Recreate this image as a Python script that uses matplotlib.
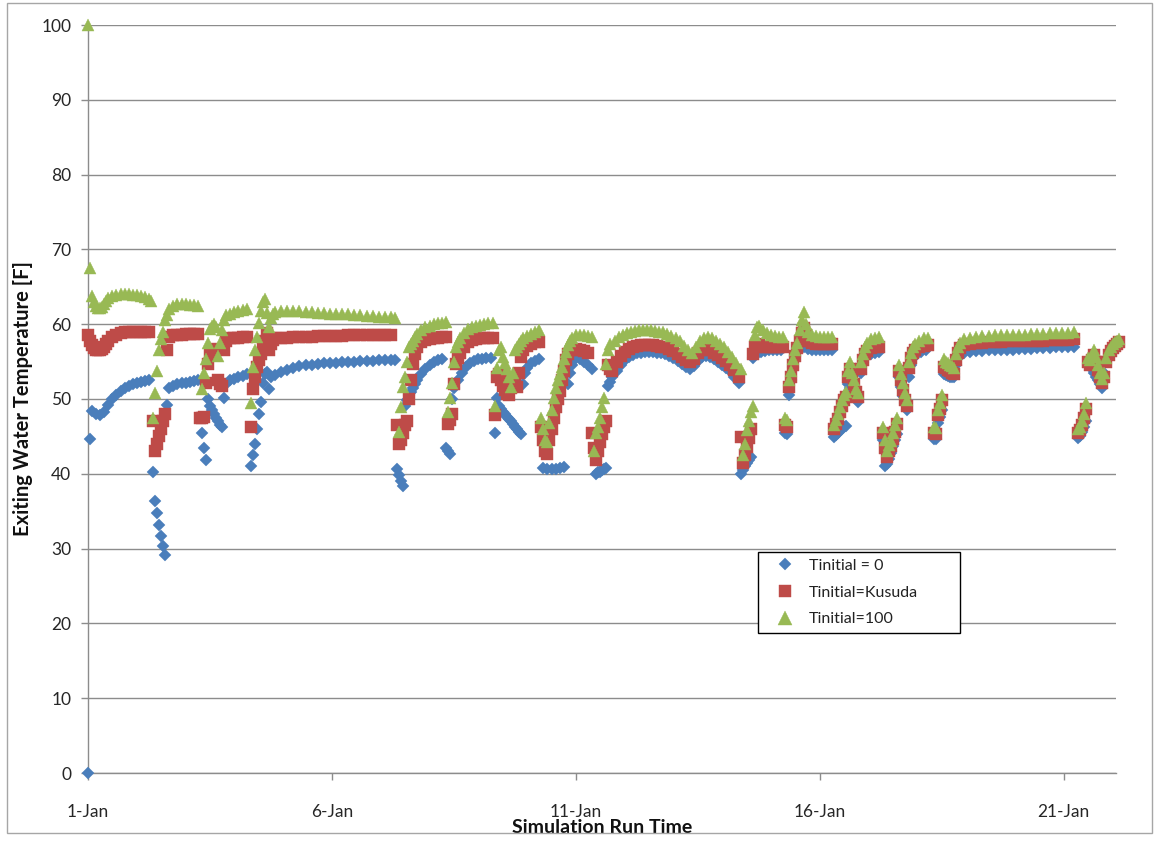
import numpy as np
import matplotlib
matplotlib.use("Agg")
import matplotlib.pyplot as plt
from matplotlib.lines import Line2D
from matplotlib.legend_handler import HandlerLine2D
from matplotlib.patches import Rectangle

plt.rcParams['font.family'] = ['Lato', 'DejaVu Sans']

SERIES_NAMES = ["Tinitial = 0", "Tinitial=Kusuda", "Tinitial=100"]
X_TICK_DAYS = [0, 5, 10, 15, 20]
X_TICK_LABELS = ["1-Jan", "6-Jan", "11-Jan", "16-Jan", "21-Jan"]
Y_TICKS = list(range(0, 101, 10))
X_LABEL = "Simulation Run Time"
Y_LABEL = "Exiting Water Temperature [F]"

# Each segment: (start hour after 1-Jan 00:00, step in hours, temperatures [F])
BLUE_SEGMENTS = [
    (0, 1, [0.0, 44.6]),
    (2, 2, [48.4, 48.0, 47.8, 48.2, 49.2, 50.0, 50.6, 51.1, 51.5, 51.8, 52.0, 52.2, 52.3, 52.4, 52.5]),
    (32, 1, [40.2, 36.4, 34.7, 33.2, 31.7, 30.4, 29.2, 49.2, 51.5]),
    (42, 2, [51.8, 52.0, 52.1, 52.2, 52.3, 52.4, 52.5]),
    (56, 1, [45.5, 43.5, 41.8, 50.0, 49.0, 48.5, 48.0, 47.5, 47.0, 46.5, 46.2, 50.2, 52.0]),
    (70, 2, [52.5, 52.7, 52.9, 53.1, 53.3]),
    (80, 1, [41.1, 42.5, 44.0, 46.0, 48.0, 49.6, 52.1, 53.3, 53.6, 51.4, 53.0]),
    (92, 3, [53.2, 53.6, 53.9, 54.2, 54.4, 54.5, 54.6, 54.7, 54.75, 54.8, 54.85, 54.9, 54.95,
             55.0, 55.05, 55.1, 55.1, 55.15, 55.2, 55.2]),
    (151, 1, [55.2, 40.7, 39.9, 39.1, 38.4, 49.0, 49.8, 50.5, 51.0, 51.5, 52.0, 52.5]),
    (164, 2, [53.3, 54.0, 54.5, 54.9, 55.2, 55.4]),
    (176, 1, [43.5, 43.1, 42.7, 50.0, 51.5]),
    (182, 2, [52.5, 53.5, 54.3, 54.8, 55.1, 55.3, 55.4, 55.5, 55.5]),
    (200, 1, [45.5, 50.2, 49.0, 48.6, 48.3, 48.0, 47.6, 47.3, 47.0, 46.7, 46.3, 46.0, 45.6, 45.3,
              52.0, 53.5, 54.2]),
    (218, 2, [54.8, 55.1, 55.3]),
    (224, 2, [40.8, 40.6, 40.6, 40.7, 40.8, 40.9]),
    (236, 1, [52.0, 53.5, 54.5]),
    (240, 2, [55.5, 55.4, 55.0, 54.5, 54.0]),
    (250, 1, [40.0, 40.2, 40.3, 40.5, 40.6, 40.8, 51.8, 52.3, 52.9]),
    (260, 2, [53.8, 54.6, 55.2, 55.6, 55.9, 56.1, 56.2, 56.3, 56.3, 56.3, 56.2, 56.1, 56.0, 55.8,
              55.5, 55.1, 54.7, 54.3, 54.0, 54.4, 55.1, 55.6, 55.8, 55.6, 55.3, 55.0, 54.6, 54.2,
              53.7, 53.0, 52.2]),
    (321, 1, [40.0, 40.5, 41.0, 41.4, 41.8, 42.2, 55.5]),
    (329, 2, [56.0, 56.3, 56.4, 56.5, 56.5, 56.5, 56.5]),
    (343, 1, [45.4, 45.3, 50.5, 52.5, 54.3, 55.8, 56.8, 57.0]),
    (352, 2, [56.9, 56.7, 56.6, 56.5, 56.5, 56.5, 56.5, 56.5]),
    (367, 1, [44.9, 45.2, 45.5, 45.8, 46.0, 46.2, 46.4, 52.0, 51.5, 51.0, 50.5, 50.0, 49.6, 53.5, 55.0]),
    (383, 2, [55.7, 56.0, 56.2, 56.3]),
    (391, 1, [44.5, 41.0, 41.3, 42.0, 42.8, 43.7, 44.5, 45.3, 53.0, 51.6, 50.4, 49.4, 48.5, 52.9,
              54.5, 55.5]),
    (408, 2, [56.0, 56.3, 56.5]),
    (416, 1, [44.7, 44.6, 46.8, 47.6, 48.5, 53.3, 53.2, 53.1, 53.0, 52.9, 52.9, 54.5, 55.5, 56.0]),
    (431, 3, [56.2, 56.3, 56.4, 56.4, 56.5, 56.5, 56.6, 56.6, 56.6, 56.7, 56.7, 56.7, 56.8, 56.8,
              56.8, 56.9, 56.9, 56.9, 57.0]),
    (487, 1, [44.8, 45.1, 45.6, 46.3, 47.0, 54.5, 54.6, 54.0, 53.5, 53.0, 52.5, 52.0, 51.5, 53.5,
              55.0, 56.0, 56.5, 56.8, 57.0, 57.2, 57.3]),
]

RED_SEGMENTS = [
    (0, 1, [58.5, 57.8, 57.2, 56.8, 56.6, 56.5, 56.5, 56.7, 57.0, 57.4, 57.8]),
    (12, 2, [58.3, 58.6, 58.8, 58.9, 58.9, 58.9, 58.9, 58.9, 58.9, 58.9]),
    (32, 1, [47.1, 43.1, 44.0, 45.0, 46.0, 47.0, 48.0, 56.5, 58.3]),
    (42, 2, [58.5, 58.6, 58.6, 58.7, 58.7, 58.7, 58.7]),
    (55, 1, [47.4, 47.4, 47.6, 52.1, 54.7, 56.0, 56.4, 56.6, 56.7, 52.5, 52.0, 51.7, 56.5, 57.8]),
    (70, 2, [58.1, 58.2, 58.2, 58.3, 58.3]),
    (80, 1, [46.3, 51.3, 53.0, 54.3, 55.2, 56.0, 56.8, 57.8, 58.8, 56.5, 57.3, 57.9, 58.1]),
    (95, 3, [58.2, 58.2, 58.3, 58.3, 58.3, 58.3, 58.4, 58.4, 58.4, 58.4, 58.4, 58.5, 58.5, 58.5,
             58.5, 58.5, 58.5, 58.5]),
    (149, 2, [58.5]),
    (152, 1, [46.5, 44.0, 44.5, 45.5, 46.5, 47.1, 50.0, 52.5, 54.7, 56.0, 57.0]),
    (164, 2, [57.6, 57.9, 58.0, 58.1, 58.2, 58.3, 58.3]),
    (177, 1, [46.7, 47.2, 48.0, 52.0, 54.7, 55.5, 56.2]),
    (185, 2, [57.0, 57.6, 57.9, 58.0, 58.1, 58.1, 58.1, 58.1]),
    (200, 1, [47.8, 52.9, 53.4, 52.6, 51.8, 51.2, 50.7, 50.5, 51.5, 52.5, 52.0, 51.6, 53.5, 55.6, 56.5]),
    (216, 2, [57.1, 57.4, 57.6, 57.6]),
    (223, 1, [46.2, 44.5, 43.0, 42.7, 44.5, 46.0, 47.5, 48.9, 50.0, 51.1, 52.5, 53.8, 55.2, 56.0]),
    (238, 2, [56.5, 56.7, 56.6, 56.4, 56.2]),
    (248, 1, [45.4, 43.5, 41.8, 43.0, 44.2, 45.3, 46.2, 47.1, 54.5, 54.0, 53.8]),
    (260, 2, [55.0, 55.8, 56.3, 56.7, 56.9, 57.1, 57.2, 57.2, 57.2, 57.2, 57.1, 57.0, 56.9, 56.7,
              56.4, 56.0, 55.6, 55.2, 54.9, 55.4, 56.1, 56.6, 56.7, 56.5, 56.2, 55.9, 55.5, 55.1,
              54.6, 53.9, 53.0]),
    (321, 1, [44.9, 41.5, 42.5, 43.6, 44.8, 46.0, 56.0, 57.0, 57.3, 57.2]),
    (332, 2, [57.0, 56.9, 56.9, 56.9, 56.9, 56.9]),
    (343, 1, [46.5, 46.3, 51.6, 53.0, 54.5, 55.8, 56.8, 57.8, 58.8, 59.5, 58.5, 57.8]),
    (356, 2, [57.5, 57.4, 57.4, 57.4, 57.4, 57.4]),
    (367, 1, [46.0, 46.6, 47.3, 48.2, 49.0, 49.8, 50.3, 53.0, 54.0, 53.0, 52.0, 51.0, 50.3, 54.0,
              55.2, 56.0, 56.4]),
    (385, 2, [56.8, 57.0, 57.0]),
    (391, 1, [45.5, 43.5, 42.2, 43.0, 43.7, 44.6, 45.6, 46.6, 53.8, 52.5, 51.2, 49.9, 49.0, 54.2,
              55.5, 56.2, 56.6]),
    (409, 2, [56.9, 57.1, 57.2]),
    (416, 1, [45.4, 45.3, 47.8, 48.7, 49.8, 54.3, 54.1, 53.9, 53.7, 53.5, 53.4, 55.2, 56.2, 56.8]),
    (431, 3, [57.2, 57.4, 57.5, 57.5, 57.6, 57.6, 57.6, 57.7, 57.7, 57.7, 57.8, 57.8, 57.8, 57.8,
              57.9, 57.9, 57.9, 57.9, 58.0]),
    (487, 1, [45.5, 45.9, 46.5, 47.5, 48.6, 55.0, 54.5, 55.2, 55.9, 55.0, 53.9, 52.9, 52.1, 53.0,
              54.9, 55.9, 56.4, 56.8, 57.1, 57.4, 57.6]),
]

GREEN_SEGMENTS = [
    (0, 1, [100.0, 67.5, 63.8, 63.0, 62.5, 62.2, 62.1, 62.3, 62.7, 63.1, 63.5]),
    (12, 2, [63.8, 63.9, 64.0, 64.0, 64.0, 63.9, 63.9, 63.8, 63.6, 63.4]),
    (31, 1, [63.1, 47.5, 50.8, 53.8, 56.5, 58.0, 59.0, 60.5, 61.2, 62.0]),
    (42, 2, [62.5, 62.7, 62.7, 62.7, 62.6, 62.6, 62.5]),
    (56, 1, [51.4, 53.5, 55.4, 57.5, 59.3, 59.8, 60.0, 59.6, 55.7, 57.5, 59.2, 60.5, 61.2]),
    (70, 2, [61.4, 61.6, 61.8, 61.9, 62.0]),
    (80, 1, [49.5, 54.3, 56.5, 58.3, 60.1, 61.8, 63.0, 63.4, 61.5, 59.6, 60.8, 61.4, 61.6]),
    (95, 3, [61.7, 61.7, 61.7, 61.7, 61.6, 61.6, 61.5, 61.5, 61.4, 61.4, 61.3, 61.3, 61.2, 61.2,
             61.1, 61.1, 61.0, 61.0]),
    (149, 2, [60.9, 60.8]),
    (153, 1, [45.6, 48.9, 51.6, 52.9, 55.0, 56.9, 57.4, 57.8, 58.3, 58.7]),
    (164, 2, [59.2, 59.6, 59.8, 60.0, 60.1, 60.2, 60.3]),
    (177, 1, [48.2, 50.2, 52.1, 55.0, 56.9, 57.6, 58.1]),
    (185, 2, [58.8, 59.3, 59.6, 59.8, 59.9, 60.0, 60.1, 60.1]),
    (200, 1, [49.1, 54.2, 56.5, 57.0, 55.6, 54.8, 54.0, 53.0, 51.6, 53.5, 56.5, 57.0, 57.4, 57.8, 58.1]),
    (216, 2, [58.4, 58.7, 59.0, 59.2]),
    (223, 1, [47.5, 46.0, 44.5, 44.3, 46.8, 48.5, 50.2, 51.5, 52.5, 53.4, 54.3, 55.3, 56.3, 57.2,
              57.8, 58.2]),
    (240, 2, [58.5, 58.5, 58.5, 58.4, 58.3]),
    (249, 1, [43.1, 45.5, 46.3, 47.5, 48.9, 50.2, 54.7, 56.5, 57.3]),
    (259, 2, [57.8, 58.3, 58.6, 58.8, 59.0, 59.1, 59.2, 59.2, 59.2, 59.2, 59.1, 59.0, 58.9, 58.7,
              58.4, 58.1, 57.7, 57.1, 56.5, 56.2, 56.9, 57.7, 58.2, 58.3, 58.1, 57.8, 57.4, 56.9,
              56.3, 55.6, 54.8, 54.0]),
    (322, 1, [42.5, 44.0, 45.8, 47.0, 48.2, 49.0, 58.5, 59.6, 59.8]),
    (332, 2, [59.2, 58.8, 58.5, 58.4, 58.3, 58.3]),
    (343, 1, [47.4, 47.2, 52.5, 53.8, 55.4, 56.5, 57.5, 59.2, 60.5, 61.6, 60.0, 59.0]),
    (356, 2, [58.6, 58.4, 58.3, 58.3, 58.3, 58.3]),
    (367, 1, [46.5, 47.2, 48.0, 48.9, 49.8, 50.5, 50.9, 53.8, 54.9, 53.5, 52.5, 51.4, 50.8, 55.0,
              56.0, 57.0, 57.5]),
    (385, 2, [58.0, 58.2, 58.3]),
    (391, 1, [46.2, 44.5, 43.1, 43.8, 44.4, 45.4, 46.5, 47.5, 54.6, 53.3, 52.1, 50.8, 49.8, 55.0,
              56.2, 57.0, 57.4]),
    (409, 2, [57.8, 58.1, 58.2]),
    (416, 1, [46.3, 46.1, 48.5, 49.5, 50.6, 55.3, 55.0, 54.8, 54.6, 54.4, 54.2, 56.0, 57.0, 57.5]),
    (431, 3, [58.0, 58.2, 58.3, 58.4, 58.4, 58.5, 58.5, 58.5, 58.6, 58.6, 58.6, 58.7, 58.7, 58.7,
              58.8, 58.8, 58.8, 58.8, 58.9]),
    (487, 1, [46.0, 46.3, 47.0, 48.0, 49.4, 55.5, 55.2, 55.9, 56.5, 55.6, 54.5, 53.5, 52.7, 53.5,
              55.5, 56.5, 56.9, 57.3, 57.6, 57.8, 58.0]),
]

SERIES_SEGMENTS = [BLUE_SEGMENTS, RED_SEGMENTS, GREEN_SEGMENTS]
SERIES_COLORS = ["#4A7EBB", "#BE4B48", "#98B954"]
SERIES_MARKERS = ["D", "s", "^"]
SERIES_MSIZE = [6.0, 8.3, 9.0]


def expand(segments):
    hours, vals = [], []
    for start, step, values in segments:
        for i, v in enumerate(values):
            hours.append(start + i * step)
            vals.append(v)
    return np.array(hours, dtype=float) / 24.0, np.array(vals, dtype=float)


class RightMarkerHandler(HandlerLine2D):
    def get_xdata(self, legend, xdescent, ydescent, width, height, fontsize):
        xdata, _ = super().get_xdata(legend, xdescent, ydescent, width, height, fontsize)
        return xdata, [-xdescent + 0.78 * width]


W, H = 1156, 842
fig = plt.figure(figsize=(W / 100, H / 100), dpi=100)
ax = fig.add_axes([88 / W, 1 - 773 / H, 1028 / W, 748 / H])

for segs, name, col, mk, ms in zip(SERIES_SEGMENTS, SERIES_NAMES, SERIES_COLORS,
                                    SERIES_MARKERS, SERIES_MSIZE):
    x, y = expand(segs)
    ax.plot(x, y, linestyle="none", marker=mk, markersize=ms, markerfacecolor=col,
            markeredgecolor=col, markeredgewidth=0.3, label=name, clip_on=False, zorder=3)

ax.set_xlim(0, 21.07)
ax.set_ylim(0, 100)
ax.set_yticks(Y_TICKS)
ax.set_xticks(X_TICK_DAYS)
ax.set_xticklabels(X_TICK_LABELS)
ax.yaxis.grid(True, color="#8c8c8c", linewidth=1.0)
ax.set_axisbelow(True)
for s in ["top", "right"]:
    ax.spines[s].set_visible(False)
for s in ["left", "bottom"]:
    ax.spines[s].set_color("#8c8c8c")
    ax.spines[s].set_linewidth(1.0)
ax.tick_params(axis="both", direction="out", length=5, width=1, color="#8c8c8c",
               labelsize=12.5, labelcolor="#262626")
ax.tick_params(axis="y", pad=7)
ax.tick_params(axis="x", pad=17)

ax.set_xlabel(X_LABEL, fontsize=14, fontweight="bold", color="#111111")
ax.xaxis.set_label_coords(0.5, (773 - 819) / 748)
ax.xaxis.label.set_va("top")
ax.set_ylabel(Y_LABEL, fontsize=14.5, fontweight="bold", color="#111111")
ax.yaxis.set_label_coords((23 - 88) / 1028, 0.5)
ax.yaxis.label.set_va("center")
ax.yaxis.label.set_ha("center")

leg = ax.legend(handler_map={Line2D: RightMarkerHandler(numpoints=1)}, loc="upper left",
                bbox_to_anchor=(758 / W, 1 - 643 / H, 202 / W, 91 / H),
                bbox_transform=fig.transFigure, mode="expand", borderaxespad=0,
                borderpad=0.4, handlelength=2.6, handletextpad=0.2, labelspacing=0.8,
                fontsize=11.5, frameon=True, fancybox=False, framealpha=1, markerscale=1.1)
leg.get_frame().set_edgecolor("black")
leg.get_frame().set_linewidth(1.0)
for t in leg.get_texts():
    t.set_color("#222222")

fig.patches.append(Rectangle((7 / W, 1 - 833 / H), (1152 - 7) / W, (833 - 3) / H,
                             transform=fig.transFigure, fill=False, edgecolor="#a6a6a6",
                             linewidth=1.0))

fig.savefig("out.png", dpi=100)
